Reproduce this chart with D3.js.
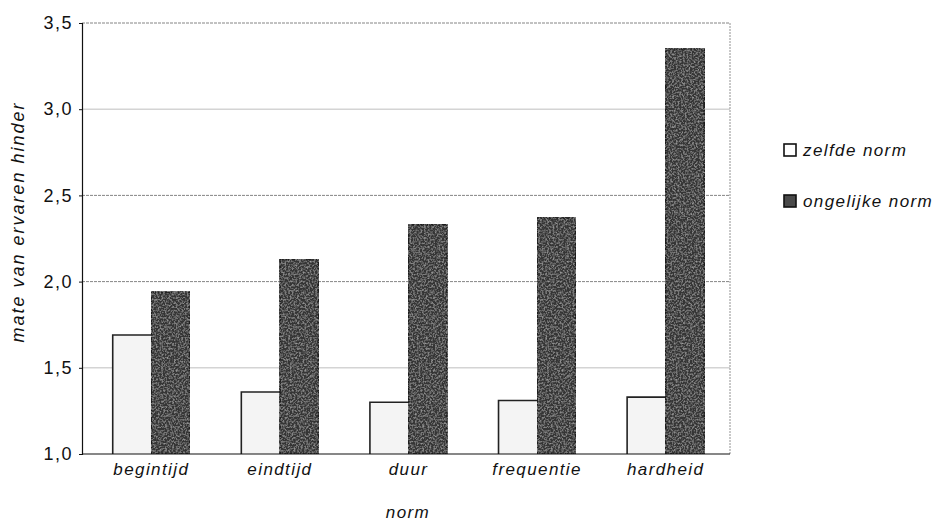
<!DOCTYPE html>
<html>
<head>
<meta charset="utf-8">
<script src="https://cdn.jsdelivr.net/npm/d3@7"></script>
<style>
  body { margin: 0; background: #fff; }
  text { font-family: "Liberation Sans", Arial, sans-serif; fill: #111; }
</style>
</head>
<body>
<div id="chart"></div>
<script>
// data
const categories = ["begintijd", "eindtijd", "duur", "frequentie", "hardheid"];
const seriesNames = ["zelfde norm", "ongelijke norm"];
const zelfdeNorm = [1.69, 1.36, 1.30, 1.31, 1.33];
const ongelijkeNorm = [1.94, 2.13, 2.33, 2.37, 3.35];
const yTicks = [1.0, 1.5, 2.0, 2.5, 3.0, 3.5];

const width = 938, height = 525;
const margin = { top: 23, right: 208, bottom: 71, left: 82 };
const innerW = width - margin.left - margin.right;
const innerH = height - margin.top - margin.bottom;

const svg = d3.select("#chart").append("svg")
  .attr("width", width)
  .attr("height", height);

// grain for the dark bars, like the scanned print
const defs = svg.append("defs");
const filt = defs.append("filter").attr("id", "grain")
  .attr("x", 0).attr("y", 0).attr("width", 1).attr("height", 1);
filt.append("feTurbulence")
  .attr("type", "fractalNoise")
  .attr("baseFrequency", 0.55)
  .attr("numOctaves", 2)
  .attr("seed", 5)
  .attr("result", "noise");
filt.append("feColorMatrix")
  .attr("in", "noise")
  .attr("type", "matrix")
  .attr("values", "0 0 0 0 0.45  0 0 0 0 0.45  0 0 0 0 0.45  0 0 0 -1.6 0.9")
  .attr("result", "dots");
filt.append("feComposite").attr("in", "dots").attr("in2", "SourceGraphic").attr("operator", "atop");

const g = svg.append("g").attr("transform", `translate(${margin.left},${margin.top})`);

const x = d3.scaleBand().domain(categories).range([5, innerW]).paddingInner(0.4).paddingOuter(0.2);
const x1 = d3.scaleBand().domain(seriesNames).range([0, x.bandwidth()]);
const y = d3.scaleLinear().domain([1, 3.5]).range([innerH, 0]);

// gridlines
const dashed = d => d === 2.0 || d === 2.5 || d === 3.5;
g.append("g").selectAll("line")
  .data(yTicks.slice(1))
  .join("line")
  .attr("x1", 0).attr("x2", innerW)
  .attr("y1", d => y(d)).attr("y2", d => y(d))
  .attr("stroke", d => dashed(d) ? "#666" : "#d4d4d4")
  .attr("stroke-width", d => dashed(d) ? 0.8 : 1.5)
  .attr("stroke-dasharray", d => dashed(d) ? "3,1" : null);

// plot frame (right side dotted)
g.append("line")
  .attr("x1", innerW).attr("x2", innerW).attr("y1", 0).attr("y2", innerH)
  .attr("stroke", "#777").attr("stroke-width", 0.8).attr("stroke-dasharray", "2,1");

// bars
const groups = g.append("g").selectAll("g")
  .data(categories)
  .join("g")
  .attr("transform", d => `translate(${x(d)},0)`);

groups.append("rect")
  .attr("x", x1("zelfde norm"))
  .attr("y", (d, i) => y(zelfdeNorm[i]))
  .attr("width", x1.bandwidth())
  .attr("height", (d, i) => innerH - y(zelfdeNorm[i]))
  .attr("fill", "#f4f4f4");

// outline on left and top of the light bars
groups.append("path")
  .attr("d", (d, i) => {
    const x0 = x1("zelfde norm"), yt = y(zelfdeNorm[i]);
    return `M${x0},${innerH}V${yt}H${x0 + x1.bandwidth()}`;
  })
  .attr("fill", "none")
  .attr("stroke", "#222")
  .attr("stroke-width", 1.6);

groups.append("rect")
  .attr("x", x1("ongelijke norm"))
  .attr("y", (d, i) => y(ongelijkeNorm[i]))
  .attr("width", x1.bandwidth())
  .attr("height", (d, i) => innerH - y(ongelijkeNorm[i]))
  .attr("fill", "#363636")
  .attr("stroke", "#1c1c1c")
  .attr("stroke-width", 1.5)
  .attr("filter", "url(#grain)");

// axes
const yAxis = g.append("g")
  .call(d3.axisLeft(y).tickValues(yTicks).tickSize(3).tickFormat(d => d3.format(".1f")(d).replace(".", ",")));
yAxis.select(".domain").attr("stroke", "#111").attr("stroke-width", 1.2);
yAxis.selectAll(".tick line").attr("stroke", "#111");
yAxis.selectAll(".tick text")
  .attr("x", -9)
  .style("font-size", "18px")
  .style("letter-spacing", "1.5px")
  .attr("fill", "#111");

g.append("line")
  .attr("x1", 0).attr("x2", innerW).attr("y1", innerH).attr("y2", innerH)
  .attr("stroke", "#111").attr("stroke-width", 1.2);

// category labels
g.append("g").selectAll("text")
  .data(categories)
  .join("text")
  .attr("x", d => x(d) + x.bandwidth() / 2)
  .attr("y", innerH + 21)
  .attr("text-anchor", "middle")
  .style("font-size", "17px")
  .style("letter-spacing", "1.4px")
  .style("font-style", "italic")
  .text(d => d);

// axis titles
svg.append("text")
  .attr("x", margin.left + innerW / 2 + 2)
  .attr("y", 518)
  .attr("text-anchor", "middle")
  .style("font-size", "17px")
  .style("letter-spacing", "1.4px")
  .style("font-style", "italic")
  .text("norm");

svg.append("text")
  .attr("transform", "translate(24,222) rotate(-90)")
  .attr("text-anchor", "middle")
  .style("font-size", "18px")
  .style("letter-spacing", "2px")
  .style("font-style", "italic")
  .text("mate van ervaren hinder");

// legend
const legend = svg.append("g").attr("transform", "translate(784,144)");
const legendItems = legend.selectAll("g")
  .data(seriesNames)
  .join("g")
  .attr("transform", (d, i) => `translate(0,${i * 51})`);

legendItems.append("rect")
  .attr("width", 12).attr("height", 12)
  .attr("fill", (d, i) => i === 0 ? "#fff" : "#4a4a4a")
  .attr("stroke", "#111")
  .attr("stroke-width", 1.6);

legendItems.append("text")
  .attr("x", 19)
  .attr("y", 12)
  .style("font-size", "17px")
  .style("letter-spacing", "1.4px")
  .style("font-style", "italic")
  .text(d => d);
</script>
</body>
</html>
